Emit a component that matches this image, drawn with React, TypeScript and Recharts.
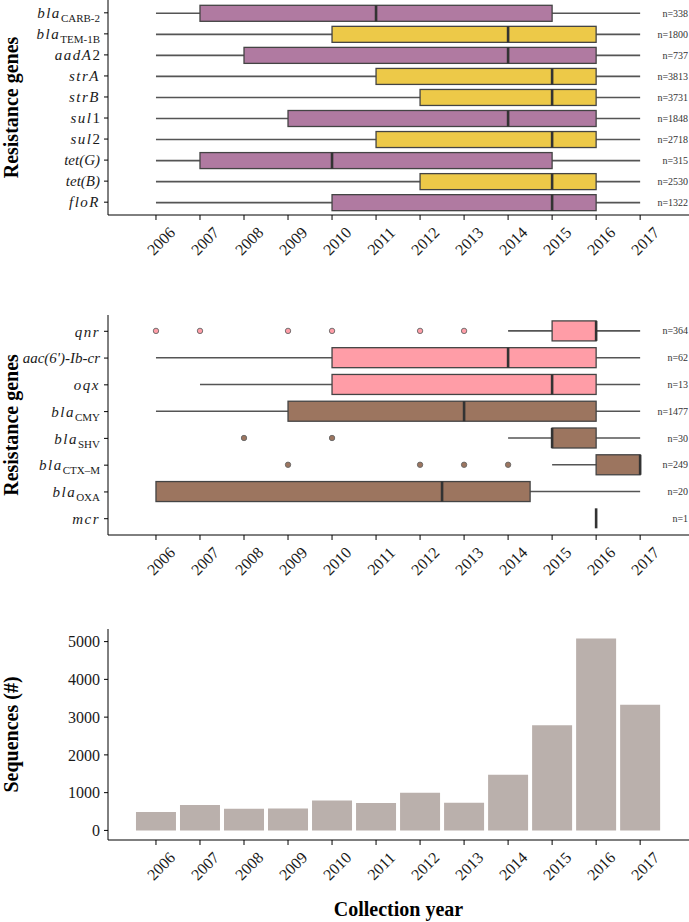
import React from "react";
import { Bar, BarChart, XAxis, YAxis } from "recharts";

const YEARS = [2006, 2007, 2008, 2009, 2010, 2011, 2012, 2013, 2014, 2015, 2016, 2017];

// top panel: "_" marks the subscript part of a gene name
const TOP_GENES = ["bla_CARB-2", "bla_TEM-1B", "aadA2", "strA", "strB", "sul1", "sul2", "tet(G)", "tet(B)", "floR"];
const TOP_LOW = [2006, 2006, 2006, 2006, 2006, 2006, 2006, 2006, 2006, 2006];
const TOP_Q1 = [2007, 2010, 2008, 2011, 2012, 2009, 2011, 2007, 2012, 2010];
const TOP_MED = [2011, 2014, 2014, 2015, 2015, 2014, 2015, 2010, 2015, 2015];
const TOP_Q3 = [2015, 2016, 2016, 2016, 2016, 2016, 2016, 2015, 2016, 2016];
const TOP_HIGH = [2017, 2017, 2017, 2017, 2017, 2017, 2017, 2017, 2017, 2017];
const TOP_N = [338, 1800, 737, 3813, 3731, 1848, 2718, 315, 2530, 1322];
const TOP_GROUP = ["purple", "yellow", "purple", "yellow", "yellow", "purple", "yellow", "purple", "yellow", "purple"];

// middle panel
const MID_GENES = ["qnr", "aac(6')-Ib-cr", "oqx", "bla_CMY", "bla_SHV", "bla_CTX\u2013M", "bla_OXA", "mcr"];
const MID_LOW = [2014, 2006, 2007, 2006, 2014, 2015, 2006, 2016];
const MID_Q1 = [2015, 2010, 2010, 2009, 2015, 2016, 2006, 2016];
const MID_MED = [2016, 2014, 2015, 2013, 2015, 2017, 2012.5, 2016];
const MID_Q3 = [2016, 2016, 2016, 2016, 2016, 2017, 2014.5, 2016];
const MID_HIGH = [2017, 2017, 2017, 2017, 2017, 2017, 2017, 2016];
const MID_OUTLIERS = [
  [2006, 2007, 2009, 2010, 2012, 2013],
  [],
  [],
  [],
  [2008, 2010],
  [2009, 2012, 2013, 2014],
  [],
  [],
];
const MID_N = [364, 62, 13, 1477, 30, 249, 20, 1];
const MID_GROUP = ["pink", "pink", "pink", "brown", "brown", "brown", "brown", "brown"];

// bottom panel
const SEQ_COUNTS = [490, 670, 575, 580, 790, 725, 1000, 735, 1475, 2785, 5080, 3330];
const SEQ_TICKS = [0, 1000, 2000, 3000, 4000, 5000];

const FONT = '"Liberation Serif", "Times New Roman", serif';
const YEAR_DOMAIN: [number, number] = [2004.91, 2018.11];
const LABEL_YEAR = 2018.09;

const COLORS: Record<string, string> = {
  purple: "#b07aa1",
  yellow: "#edc948",
  pink: "#ff9da7",
  brown: "#9c755f",
};

type Row = {
  gene: string;
  low: number;
  q1: number;
  med: number;
  q3: number;
  high: number;
  outliers: number[];
  n: number;
  group: string;
  start: number;
};

function buildRows(
  genes: string[],
  low: number[],
  q1: number[],
  med: number[],
  q3: number[],
  high: number[],
  n: number[],
  group: string[],
  outliers?: number[][]
): Row[] {
  return genes.map((gene, i) => {
    const out = outliers ? outliers[i] : [];
    return {
      gene,
      low: low[i],
      q1: q1[i],
      med: med[i],
      q3: q3[i],
      high: high[i],
      outliers: out,
      n: n[i],
      group: group[i],
      start: Math.min(low[i], ...out),
    };
  });
}

const topRows = buildRows(TOP_GENES, TOP_LOW, TOP_Q1, TOP_MED, TOP_Q3, TOP_HIGH, TOP_N, TOP_GROUP);
const midRows = buildRows(MID_GENES, MID_LOW, MID_Q1, MID_MED, MID_Q3, MID_HIGH, MID_N, MID_GROUP, MID_OUTLIERS);
const seqData = YEARS.map((year, i) => ({ year, count: SEQ_COUNTS[i] }));

// the bar spans [start, LABEL_YEAR]; everything else is placed along it
function BoxShape(props: any) {
  const { x, y, width, height, payload } = props;
  const r: Row = payload;
  const k = width / (LABEL_YEAR - r.start);
  const px = (v: number) => x + (v - r.start) * k;
  const cy = y + height / 2;
  const fill = COLORS[r.group];
  return (
    <g>
      {r.high > r.low && (
        <line x1={px(r.low)} x2={px(r.high)} y1={cy} y2={cy} stroke="#555" strokeWidth={1.6} />
      )}
      {r.q3 > r.q1 && (
        <rect
          x={px(r.q1)}
          y={y}
          width={px(r.q3) - px(r.q1)}
          height={height}
          fill={fill}
          stroke="#444"
          strokeWidth={1.3}
        />
      )}
      <line x1={px(r.med)} x2={px(r.med)} y1={y} y2={y + height} stroke="#333" strokeWidth={2.6} />
      {r.outliers.map((v) => (
        <circle key={v} cx={px(v)} cy={cy} r={2.7} fill={fill} stroke="#666" strokeWidth={0.9} />
      ))}
      <text x={x + width} y={cy} dy="0.35em" textAnchor="end" fontFamily={FONT} fontSize={10} fill="#333">
        n={r.n}
      </text>
    </g>
  );
}

function GeneTick({ x, y, payload }: any) {
  const [main, sub] = String(payload.value).split("_");
  const m = main.match(/^(.*?)(\d*)$/) || [main, main, ""];
  const spaced = !main.includes("(");
  return (
    <text x={x} y={y} dy="0.35em" textAnchor="end" fontFamily={FONT} fontSize={15} fill="#1a1a1a">
      <tspan fontStyle="italic" letterSpacing={spaced ? 1.5 : 0}>
        {m[1]}
      </tspan>
      {m[2] && <tspan>{m[2]}</tspan>}
      {sub && (
        <tspan fontSize={11} dy={4}>
          {sub}
        </tspan>
      )}
    </text>
  );
}

function YearTick({ x, y, payload }: any) {
  return (
    <text
      transform={`translate(${x + 5},${y + 19}) rotate(-45)`}
      textAnchor="middle"
      dy="0.35em"
      fontFamily={FONT}
      fontSize={16}
      fill="#1a1a1a"
    >
      {payload.value}
    </text>
  );
}

function BoxPanel({ rows, height, top, barSize, pad }: { rows: Row[]; height: number; top: number; barSize: number; pad: number }) {
  return (
    <BarChart
      layout="vertical"
      width={689}
      height={height}
      data={rows}
      margin={{ top, right: 0, bottom: 0, left: 0 }}
    >
      <XAxis
        type="number"
        domain={YEAR_DOMAIN}
        ticks={YEARS}
        interval={0}
        allowDataOverflow
        height={55}
        tickSize={5}
        tickMargin={2}
        stroke="#000"
        tick={<YearTick />}
      />
      <YAxis
        type="category"
        dataKey="gene"
        width={108}
        tickSize={4}
        tickMargin={4}
        interval={0}
        stroke="#000"
        padding={{ top: pad, bottom: pad }}
        tick={<GeneTick />}
      />
      <Bar
        dataKey={(r: Row) => [r.start, LABEL_YEAR]}
        barSize={barSize}
        shape={BoxShape}
        isAnimationActive={false}
      />
    </BarChart>
  );
}

const titleStyle = { fontFamily: FONT, fontSize: 20, fontWeight: 700, fill: "#000" } as const;

export default function App() {
  return (
    <div style={{ position: "absolute", left: 0, top: 0, width: 689, height: 922, background: "#fff" }}>
      <div style={{ position: "absolute", left: 0, top: 0 }}>
        <BoxPanel rows={topRows} height={270} top={0} barSize={16} pad={2.3} />
      </div>
      <div style={{ position: "absolute", left: 0, top: 300 }}>
        <BoxPanel rows={midRows} height={290} top={15} barSize={20} pad={2.9} />
      </div>
      <div style={{ position: "absolute", left: 0, top: 600 }}>
        <BarChart width={689} height={322} data={seqData} margin={{ top: 29, right: 0, bottom: 0, left: 0 }}>
          <XAxis
            type="number"
            dataKey="year"
            domain={YEAR_DOMAIN}
            ticks={YEARS}
            interval={0}
            allowDataOverflow
            height={82}
            tickSize={5}
            tickMargin={2}
            stroke="#000"
            tick={<YearTick />}
          />
          <YAxis
            type="number"
            domain={[-254, 5334]}
            ticks={SEQ_TICKS}
            interval={0}
            allowDataOverflow
            width={108}
            tickSize={4}
            tickMargin={4}
            stroke="#000"
            tick={{ fontFamily: FONT, fontSize: 16, fill: "#1a1a1a" }}
          />
          <Bar dataKey="count" fill="#bab0ac" barSize={40} isAnimationActive={false} />
        </BarChart>
      </div>
      <svg width={689} height={922} style={{ position: "absolute", left: 0, top: 0, pointerEvents: "none" }}>
        <text transform="translate(18,107.5) rotate(-90)" textAnchor="middle" {...titleStyle}>
          Resistance genes
        </text>
        <text transform="translate(18,425) rotate(-90)" textAnchor="middle" {...titleStyle}>
          Resistance genes
        </text>
        <text transform="translate(18,734.5) rotate(-90)" textAnchor="middle" {...titleStyle}>
          Sequences (#)
        </text>
        <text x={398.5} y={916} textAnchor="middle" {...titleStyle}>
          Collection year
        </text>
      </svg>
    </div>
  );
}
